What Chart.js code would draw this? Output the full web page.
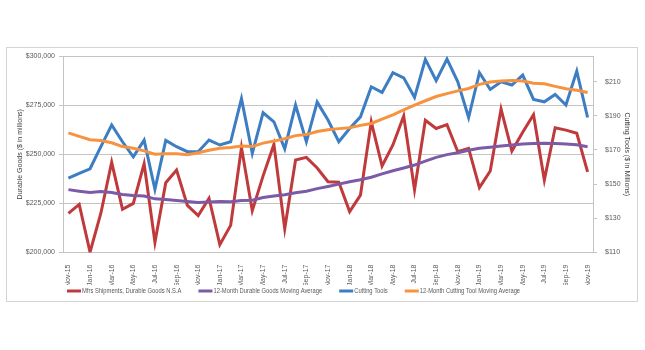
<!DOCTYPE html>
<html>
<head>
<meta charset="utf-8">
<script src="https://cdn.jsdelivr.net/npm/chart.js@4/dist/chart.umd.min.js"></script>
<style>
  html, body { margin: 0; padding: 0; background: #fff; }
  #wrap { width: 645px; height: 350px; }
</style>
</head>
<body>
<div id="wrap"><canvas id="chart" width="645" height="350"></canvas></div>
<script>
// ===== Data =====
const meses = ['Nov-15','Dec-15','Jan-16','Feb-16','Mar-16','Apr-16','May-16','Jun-16','Jul-16','Aug-16','Sep-16','Oct-16',
  'Nov-16','Dec-16','Jan-17','Feb-17','Mar-17','Apr-17','May-17','Jun-17','Jul-17','Aug-17','Sep-17','Oct-17',
  'Nov-17','Dec-17','Jan-18','Feb-18','Mar-18','Apr-18','May-18','Jun-18','Jul-18','Aug-18','Sep-18','Oct-18',
  'Nov-18','Dec-18','Jan-19','Feb-19','Mar-19','Apr-19','May-19','Jun-19','Jul-19','Aug-19','Sep-19','Oct-19','Nov-19'];

const envios = [219900,224500,200200,220000,245900,222000,225000,245200,205200,235500,242000,224000,
  218800,227600,204000,213800,253400,221300,239000,255000,212100,247100,248400,243000,
  236000,235800,220800,229200,266500,244000,254700,269500,232000,267300,263100,265100,
  251300,253000,233000,241500,273000,251600,261200,270100,236900,263500,262300,260700,241000];

const enviosPromedio = [232000,231200,230500,231000,230500,229500,229000,228700,227300,227000,226500,226000,
  225500,225700,226000,225800,226500,226600,228000,228700,229400,230400,231200,232500,
  233600,234800,236000,237000,238300,240000,241600,243000,244500,246500,248400,249800,
  250800,252000,253000,253600,254200,254700,255200,255500,255600,255500,255200,254800,253800];

const herramientas = [153.5,156.3,159,172,184.6,174.8,166,175.8,147,175.6,171.9,169,
  169,175.8,172.9,174.8,200,168,191.8,186.5,170.7,196.3,174.8,198,
  187.5,174.8,182.6,189.4,207,203.7,215.2,212.2,200.8,223,210.5,223.2,
  209.9,189,215.2,205.4,209.9,208,213.8,199.6,198.2,202.5,196.3,216.2,189];

const herramientasPromedio = [180,178,176,175.5,174.2,172,171,169.5,167.5,167.8,167.8,167.2,
  168.4,169.8,171,171.5,172.3,172,174,175.2,176.6,178.4,179,180.8,
  181.8,182.5,183,184.4,185.5,188,190.6,193.4,196.3,198.8,201.3,203,
  204.6,206,208.4,209.8,210.3,210.6,210.4,209,208.7,207.2,205.8,205,203.6];

const ticksDerecha = [110,130,150,170,190,210];

const fuente = "'Liberation Sans', Arial, sans-serif";
const gris = '#595959';
const lineaGris = '#c4c4c4';

// ===== Plugins =====
const marco = {
  id: 'marco',
  beforeDraw(chart) {
    const c = chart.ctx;
    c.save();
    c.fillStyle = '#fff';
    c.fillRect(0, 0, chart.width, chart.height);
    c.strokeStyle = '#d4d4d4';
    c.lineWidth = 1;
    c.strokeRect(6.5, 47.5, 631, 254);
    c.restore();
  }
};

// leyenda propia: texto algo condensado, como en el original
const leyenda = {
  id: 'leyenda',
  afterDraw(chart) {
    const c = chart.ctx;
    c.save();
    c.font = '7px ' + fuente;
    c.textBaseline = 'middle';
    const k = 0.83;
    let x = 67;
    const y = 291;
    chart.data.datasets.forEach(ds => {
      c.strokeStyle = ds.borderColor;
      c.lineWidth = 3;
      c.beginPath();
      c.moveTo(x, y);
      c.lineTo(x + 14, y);
      c.stroke();
      c.fillStyle = gris;
      c.save();
      c.translate(x + 15, y);
      c.scale(k, 1);
      c.fillText(ds.label, 0, 0);
      c.restore();
      x += 15 + c.measureText(ds.label).width * k + 17;
    });
    c.restore();
  }
};

// ===== Chart =====
function initChart() {
  const ctx = document.getElementById('chart');
  new Chart(ctx, {
    type: 'line',
    data: {
      labels: meses,
      datasets: [
        { label: 'Mfrs Shipments, Durable Goods N.S.A', data: envios, borderColor: '#c0393b', yAxisID: 'y', order: 4 },
        { label: '12-Month Durable Goods Moving Average', data: enviosPromedio, borderColor: '#7b5aa6', yAxisID: 'y', order: 3 },
        { label: 'Cutting Tools', data: herramientas, borderColor: '#3c7dc3', yAxisID: 'y1', order: 2 },
        { label: '12-Month Cutting Tool Moving Average', data: herramientasPromedio, borderColor: '#f7923f', yAxisID: 'y1', order: 1 }
      ].map(d => Object.assign(d, { borderWidth: 3, pointRadius: 0, tension: 0, fill: false }))
    },
    options: {
      responsive: false,
      animation: false,
      layout: { padding: { left: 6, right: 7, top: 56, bottom: 65 } },
      plugins: { legend: { display: false }, tooltip: { enabled: false } },
      scales: {
        x: {
          offset: true,
          grid: { display: false },
          border: { color: lineaGris },
          ticks: {
            autoSkip: false, minRotation: 90, maxRotation: 90, padding: 4,
            color: gris, font: { family: fuente, size: 7 },
            callback: function(v, i) { return i % 2 === 0 ? this.getLabelForValue(v) : ''; }
          },
          afterFit(s) { s.height = 350 - 65 - 252.5; }
        },
        y: {
          position: 'left',
          min: 200000, max: 300000,
          grid: { color: lineaGris, tickLength: 4 },
          border: { color: lineaGris },
          ticks: {
            stepSize: 25000, padding: 4, color: gris, font: { family: fuente, size: 7 },
            callback: v => '$' + v.toLocaleString('en-US')
          },
          title: { display: true, text: 'Durable Goods ($ in millions)', color: '#404040',
                   font: { family: fuente, size: 7 }, padding: { top: 10, bottom: 0 } },
          afterFit(s) { s.width = 63 - 6; }
        },
        y1: {
          position: 'right',
          min: 110, max: 225,
          grid: { drawOnChartArea: false, color: lineaGris, tickLength: 4 },
          border: { color: lineaGris },
          afterBuildTicks(s) { s.ticks = ticksDerecha.map(v => ({ value: v })); },
          ticks: { padding: 8, color: gris, font: { family: fuente, size: 7 }, callback: v => '$' + v },
          title: { display: true, text: 'Cutting Tools ($ in Millions)', color: '#404040',
                   font: { family: fuente, size: 7 }, padding: { top: 7, bottom: 0 } },
          afterFit(s) { s.width = 645 - 7 - 593; }
        }
      }
    },
    plugins: [marco, leyenda]
  });
}

document.addEventListener('DOMContentLoaded', initChart);
</script>
</body>
</html>
